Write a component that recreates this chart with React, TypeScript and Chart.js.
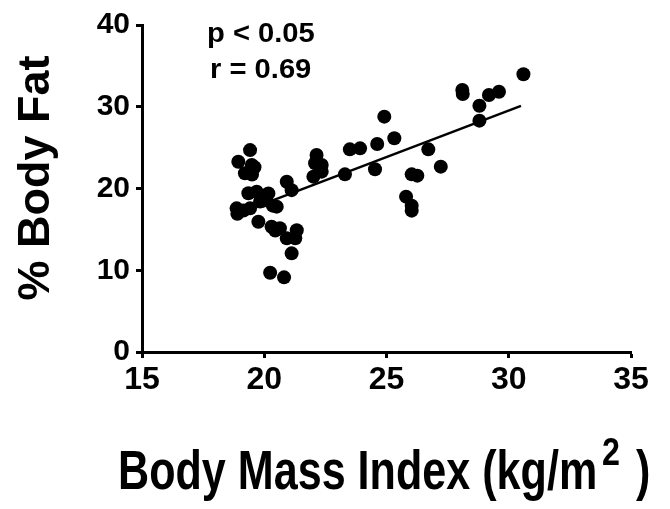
import React, { useEffect, useRef } from "react";
import { Chart, registerables } from "chart.js";

Chart.register(...registerables);

const bmi: number[] = [
  19.42, 18.94, 19.49, 19.21, 19.5, 19.6, 20.92, 21.12, 19.35, 19.69,
  20.17, 19.93, 18.87, 18.9, 19.42, 19.83, 20.51, 20.35, 19.15, 19.76,
  20.3, 20.64, 20.45, 20.92, 21.33, 21.27, 21.12, 20.24, 20.81,
  22.14, 22.08, 22.35, 22.01, 22.35, 23.3, 23.5, 23.92, 24.62, 24.53,
  24.91, 25.32, 25.8, 26.03, 26.03, 26.03, 26.26, 26.71, 27.22, 28.1,
  28.12, 28.8, 28.8, 29.19, 29.6, 30.6,
];
const bodyFat: number[] = [
  24.7, 23.28, 22.87, 21.86, 21.7, 22.6, 20.83, 19.8, 19.41, 19.6,
  19.4, 18.5, 17.57, 16.9, 17.57, 18.4, 17.78, 17.9, 17.3, 15.94,
  15.33, 15.13, 14.85, 13.9, 14.9, 13.9, 12.07, 9.7, 9.13,
  24.1, 23.08, 22.87, 21.45, 22.06, 21.73, 24.79, 24.91, 25.44, 22.35,
  28.79, 26.14, 19.0, 17.9, 17.29, 21.73, 21.57, 24.79, 22.67, 32.05,
  31.56, 30.13, 28.3, 31.44, 31.84, 33.97,
];
const fitX: number[] = [20.4, 30.5];
const fitY: number[] = [18.6, 30.1];
const xTicks: number[] = [15, 20, 25, 30, 35];
const yTicks: number[] = [0, 10, 20, 30, 40];
const statLines: string[] = ["p < 0.05", "r = 0.69"];
const xTitle = "Body Mass Index (kg/m";
const xTitleSup = "2";
const xTitleEnd = ")";
const yTitle = "% Body Fat";

const FONT = "'Liberation Sans', Arial, Helvetica, sans-serif";

const textPlugin = {
  id: "textPlugin",
  afterDraw(chart: any) {
    const ctx = chart.ctx as CanvasRenderingContext2D;
    ctx.save();
    ctx.fillStyle = "#000";
    ctx.textAlign = "left";
    ctx.textBaseline = "alphabetic";
    // stats
    ctx.font = `bold 27px ${FONT}`;
    ctx.save();
    ctx.translate(207, 42);
    ctx.scale(1.08, 1);
    ctx.fillText(statLines[0], 0, 0);
    ctx.restore();
    ctx.save();
    ctx.translate(210, 78);
    ctx.scale(1.08, 1);
    ctx.fillText(statLines[1], 0, 0);
    ctx.restore();
    // x title (horizontally condensed as in reference)
    const sx = 0.77;
    ctx.save();
    ctx.translate(118, 489);
    ctx.scale(sx, 1);
    ctx.font = `bold 56px ${FONT}`;
    ctx.fillText(xTitle, 0, 0);
    ctx.restore();
    ctx.save();
    ctx.translate(602, 465);
    ctx.scale(0.85, 1);
    ctx.font = `bold 38px ${FONT}`;
    ctx.fillText(xTitleSup, 0, 0);
    ctx.restore();
    ctx.save();
    ctx.translate(636, 489);
    ctx.scale(sx, 1);
    ctx.font = `bold 56px ${FONT}`;
    ctx.fillText(xTitleEnd, 0, 0);
    ctx.restore();
    // y title
    ctx.translate(49, 178);
    ctx.rotate(-Math.PI / 2);
    ctx.textAlign = "center";
    ctx.font = `bold 45px ${FONT}`;
    ctx.fillText(yTitle, 0, 0);
    ctx.restore();
  },
};

export default function App() {
  const ref = useRef<HTMLCanvasElement | null>(null);
  useEffect(() => {
    if (!ref.current) return;
    const points = bmi.map((x, i) => ({ x, y: bodyFat[i] }));
    const line = fitX.map((x, i) => ({ x, y: fitY[i] }));
    const chart = new Chart(ref.current, {
      type: "scatter",
      data: {
        datasets: [
          {
            type: "line",
            data: line,
            borderColor: "#000",
            borderWidth: 2.5,
            pointRadius: 0,
            fill: false,
            order: 2,
          } as any,
          {
            data: points,
            backgroundColor: "#000",
            borderColor: "#000",
            pointRadius: 7,
            pointBorderWidth: 0,
            order: 1,
          },
        ],
      },
      options: {
        animation: false,
        responsive: false,
        maintainAspectRatio: false,
        layout: { padding: { top: 25, right: 39, left: 0, bottom: 0 } },
        plugins: { legend: { display: false }, tooltip: { enabled: false } },
        scales: {
          x: {
            type: "linear",
            min: 15,
            max: 35,
            afterBuildTicks: (s: any) => {
              s.ticks = xTicks.map((v) => ({ value: v }));
            },
            afterFit: (s: any) => {
              s.height = 157;
            },
            border: { display: true, color: "#000", width: 3 },
            grid: {
              display: true,
              drawOnChartArea: false,
              drawTicks: true,
              tickLength: 6,
              tickWidth: 3,
              tickColor: "#000",
            },
            ticks: {
              color: "#000",
              font: { family: FONT, size: 32, weight: "bold" },
              padding: 3,
              maxRotation: 0,
            },
          },
          y: {
            type: "linear",
            min: 0,
            max: 40,
            afterBuildTicks: (s: any) => {
              s.ticks = yTicks.map((v) => ({ value: v }));
            },
            afterFit: (s: any) => {
              s.width = 142;
            },
            border: { display: true, color: "#000", width: 3 },
            grid: {
              display: true,
              drawOnChartArea: false,
              drawTicks: true,
              tickLength: 6,
              tickWidth: 3,
              tickColor: "#000",
            },
            ticks: {
              color: "#000",
              font: { family: FONT, size: 30, weight: "bold" },
              padding: 6,
            },
          },
        },
      },
      plugins: [textPlugin],
    });
    return () => chart.destroy();
  }, []);
  return (
    <div style={{ position: "fixed", left: 0, top: 0, width: 670, height: 509, background: "#fff" }}>
      <canvas ref={ref} width={670} height={509} style={{ width: 670, height: 509, display: "block" }} />
    </div>
  );
}
